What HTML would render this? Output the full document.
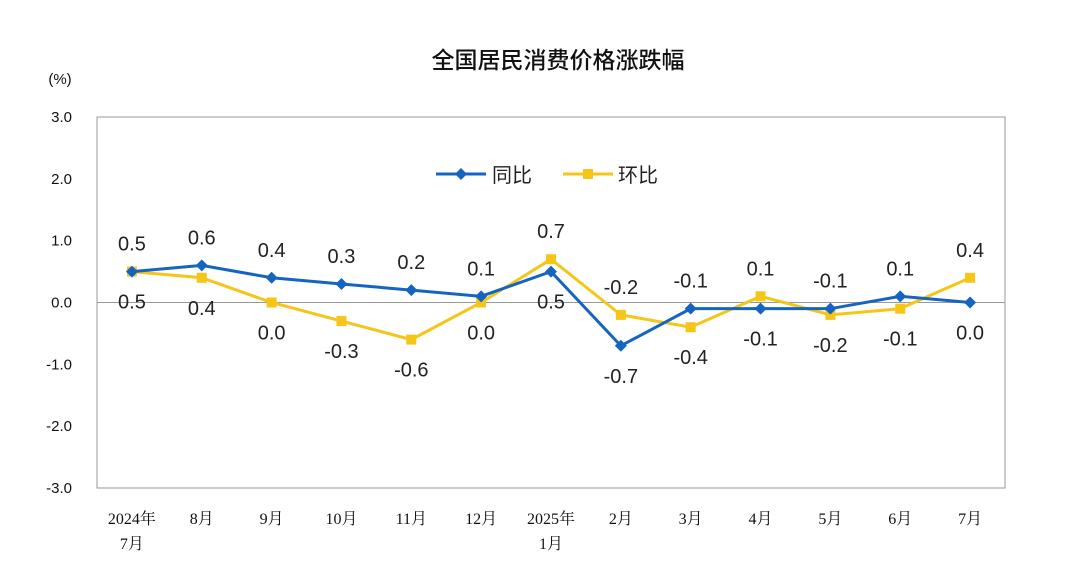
<!DOCTYPE html>
<html><head><meta charset="utf-8"><style>
body{margin:0;background:#fff;}
svg text{font-family:"Liberation Sans","Noto Sans CJK SC",sans-serif;}
svg text.xl{font-family:"Liberation Serif","Noto Serif CJK SC",serif;}
</style></head><body>
<svg width="1080" height="581" viewBox="0 0 1080 581">
<text x="558" y="68" text-anchor="middle" font-size="23" font-weight="500" fill="#111">全国居民消费价格涨跌幅</text>
<text x="60" y="84" text-anchor="middle" font-size="15" fill="#111">(%)</text>
<rect x="97" y="117" width="908" height="371" fill="none" stroke="#999" stroke-width="1"/>
<g id="axes"></g>
<g id="series"></g>
<g>
<line x1="436" y1="174" x2="486" y2="174" stroke="#1565c0" stroke-width="3"/>
<path d="M461 168 L467 174 L461 180 L455 174 Z" fill="#1565c0"/>
<text x="492" y="182" font-size="20" fill="#222">同比</text>
<line x1="563" y1="174" x2="613" y2="174" stroke="#f5c518" stroke-width="3"/>
<rect x="583" y="169" width="10" height="10" fill="#f5c518"/>
<text x="618" y="182" font-size="20" fill="#222">环比</text>
</g>
</svg>
<script>
const categories=[["2024年","7月"],["8月"],["9月"],["10月"],["11月"],["12月"],["2025年","1月"],["2月"],["3月"],["4月"],["5月"],["6月"],["7月"]];
const yoyValues=[0.5,0.6,0.4,0.3,0.2,0.1,0.5,-0.7,-0.1,-0.1,-0.1,0.1,0.0];
const momValues=[0.5,0.4,0.0,-0.3,-0.6,0.0,0.7,-0.2,-0.4,0.1,-0.2,-0.1,0.4];
const yTicks=[3,2,1,0,-1,-2,-3];
const yoyLabelSide=[-1,-1,-1,-1,-1,-1,1,1,-1,1,-1,-1,1];
const momLabelSide=[1,1,1,1,1,1,-1,-1,1,-1,1,1,-1];
const NS="http://www.w3.org/2000/svg";
const L=97,R=1005,T=117,B=488;
const x=i=>L+(R-L)/categories.length*(i+0.5);
const y=v=>T+(3-v)/6*(B-T);
function mk(tag,attrs,parent){const e=document.createElementNS(NS,tag);for(const k in attrs)e.setAttribute(k,attrs[k]);parent.appendChild(e);return e;}
const ax=document.getElementById('axes');
yTicks.forEach(t=>{
 const tx=mk('text',{x:72,y:y(t)+5,'text-anchor':'end','font-size':15,fill:'#111'},ax);
 tx.textContent=t.toFixed(1);
 
 
});
const zl=mk('line',{x1:L,x2:R,y1:y(0),y2:y(0),stroke:'#999','stroke-width':1},ax);


categories.forEach((c,i)=>{
 c.forEach((s,j)=>{
  const tx=mk('text',{x:x(i),y:524+j*25,'text-anchor':'middle','font-size':16,fill:'#111','class':'xl'},ax);
  tx.textContent=s;
  
  
 });
});
const sg=document.getElementById('series');
function draw(vals,color,name,marker,sides){
 const pl=mk('polyline',{points:vals.map((v,i)=>x(i)+','+y(v)).join(' '),fill:'none',stroke:color,'stroke-width':3},sg);
 
 
 vals.forEach((v,i)=>{
  let m;
  if(marker==='d') m=mk('path',{d:`M${x(i)} ${y(v)-6} L${x(i)+6} ${y(v)} L${x(i)} ${y(v)+6} L${x(i)-6} ${y(v)} Z`,fill:color},sg);
  else m=mk('rect',{x:x(i)-5,y:y(v)-5,width:10,height:10,fill:color},sg);
  
  
  const tx=mk('text',{x:x(i),y:y(v)+sides[i]*29+8,'text-anchor':'middle','font-size':20,fill:'#222'},sg);
  tx.textContent=v.toFixed(1);
  
  
 });
}
draw(momValues,'#f5c518','mom','s',momLabelSide);
draw(yoyValues,'#1565c0','yoy','d',yoyLabelSide);
</script>
</body></html>
